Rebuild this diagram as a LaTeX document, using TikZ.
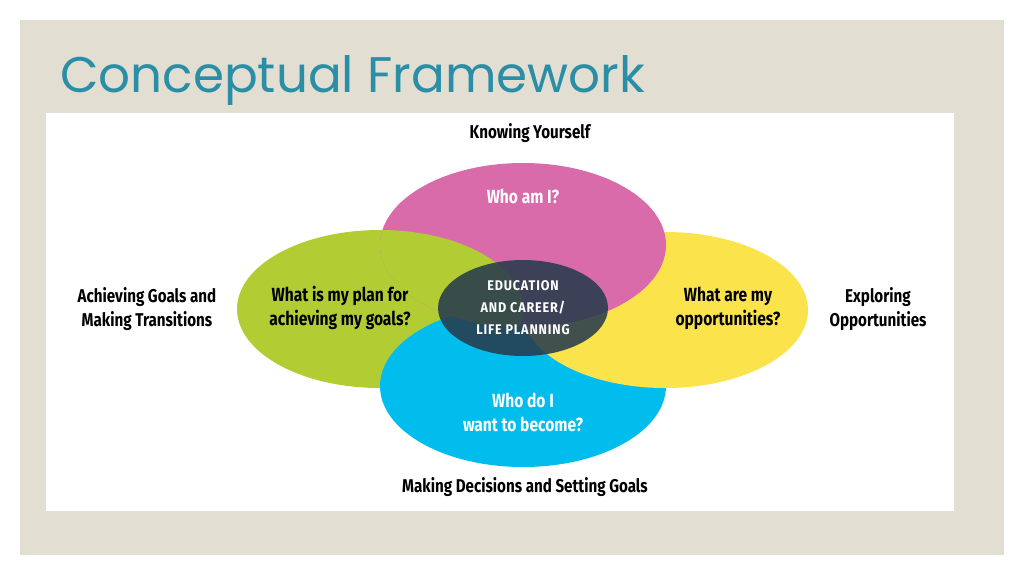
\documentclass[tikz,border=0pt]{standalone}
\usepackage{fontspec}
\setmainfont{Fira Sans}[FakeStretch=0.82]
\newfontfamily\titlefont{Poppins}
\newfontfamily\wide{Fira Sans}[FakeStretch=0.9,LetterSpace=6]
\begin{document}
\begin{tikzpicture}[x=1pt,y=-1pt,
  lab/.style={font=\fontsize{18.5}{24}\selectfont\bfseries, align=center, text=black, inner sep=0},
  inlab/.style={font=\fontsize{19}{24}\selectfont\bfseries, align=center, inner sep=0}]
\definecolor{bg}{HTML}{E2DED2}
\definecolor{ttl}{HTML}{2A8EA6}
\definecolor{pk}{HTML}{D96BAA}
\definecolor{gr}{HTML}{B2CD34}
\definecolor{yl}{HTML}{FBE34C}
\definecolor{bl}{HTML}{00BDED}
\definecolor{ctr}{HTML}{283C4C}
\useasboundingbox (0,0) rectangle (1024,576);
\fill[white] (0,0) rectangle (1024,576);
\fill[bg] (20,20) rectangle (1004,555);
\fill[white] (46,113) rectangle (954,511);
\node[anchor=west, text=ttl, font=\titlefont\fontsize{50}{54}\selectfont, inner sep=0] (title) at (60,80) {Conceptual Framework};
% petals
\fill[gr] (380,309) ellipse [x radius=143, y radius=79];
\fill[bl] (523,386) ellipse [x radius=143, y radius=81];
\fill[yl] (665,310) ellipse [x radius=143, y radius=78];
\fill[pk] (523,245) ellipse [x radius=143, y radius=82];
\begin{scope}
  \clip (523,245) ellipse [x radius=143, y radius=82];
  \fill[gr] (380,309) ellipse [x radius=143, y radius=79];
\end{scope}
\fill[ctr, opacity=0.88] (523,308) ellipse [x radius=85, y radius=48];
% texts
\node[inlab, text=white] (who) at (523,196) {Who am I?};
\node[inlab, text=black] (plan) at (340,308) {What is my plan for\\achieving my goals?};
\node[inlab, text=black] (opp) at (728,308) {What are my\\opportunities?};
\node[inlab, text=white] (become) at (523,412) {Who do I\\want to become?};
\node[font=\wide\fontsize{14}{22}\selectfont\bfseries, align=center, text=white, inner sep=0] (edu) at (523,308) {EDUCATION\\AND CAREER/\\LIFE PLANNING};
\node[lab] (ky) at (530,133) {Knowing Yourself};
\node[lab] (ag) at (147,309) {Achieving Goals and\\Making Transitions};
\node[lab] (eo) at (878,309) {Exploring\\Opportunities};
\node[lab] (md) at (525,487) {Making Decisions and Setting Goals};
\end{tikzpicture}
\end{document}
